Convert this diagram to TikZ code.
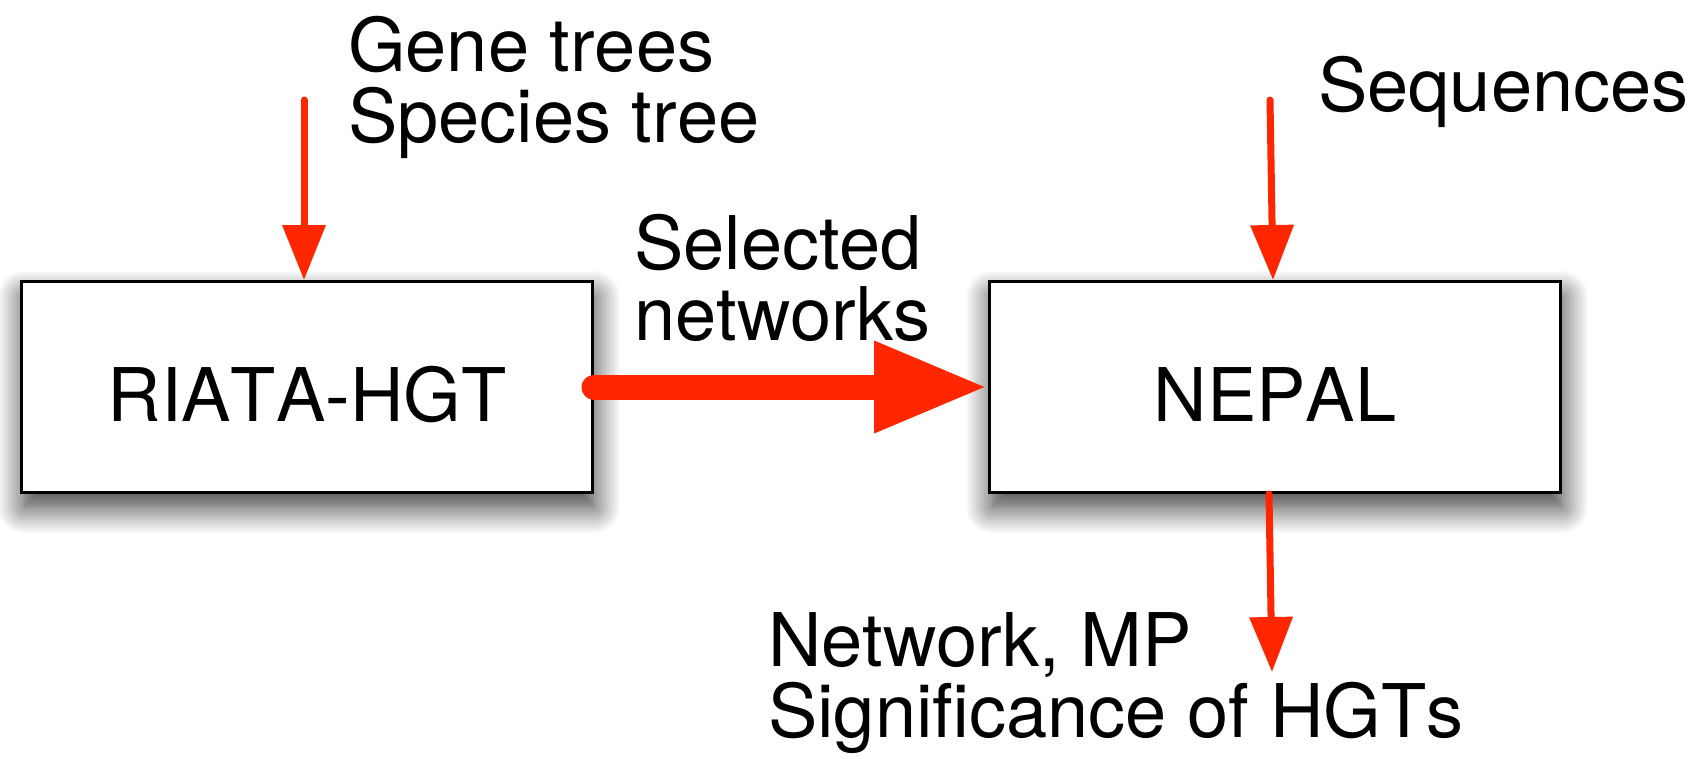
\documentclass[tikz,border=0pt]{standalone}
\usepackage{fontspec}
\setmainfont{TeX Gyre Heros}[Kerning=Off]
\usetikzlibrary{arrows.meta,shadows.blur}
\definecolor{ogred}{RGB}{255,38,0}
\tikzset{
  procbox/.style={draw=black, line width=3pt, fill=white, minimum width=571pt, minimum height=211pt,
    text height=68pt, text depth=0pt, inner sep=0pt,
    blur shadow={shadow xshift=2pt, shadow yshift=-15pt, shadow blur radius=26pt, shadow blur steps=20, shadow opacity=80}},
  txt/.style={inner sep=0pt, align=left, anchor=base west},
  feed/.style={draw=ogred, line width=7pt, line cap=round, -{Triangle[length=55pt,width=42pt]}},
  flow/.style={draw=ogred, line width=25pt, line cap=round, -{Triangle[length=114pt,width=85pt]}},
}
\begin{document}
\begin{tikzpicture}[x=1pt,y=-1pt, every node/.style={font=\fontsize{74pt}{71pt}\selectfont}]
\useasboundingbox (0,0) rectangle (1698,758);
\node[procbox] (riata) at (307,387) {RIATA-HGT};
\node[procbox] (nepal) at (1275,387) {NEPAL};
\node[txt] (genes) at (348,142) {Gene trees\\Species tree};
\node[txt] (seq) at (1318,111) {Sequences};
\node[txt] (sel) at (634,340) {Selected\\networks};
\node[txt] (out) at (768,737) {Network, MP\\Significance of HGTs};
\coordinate (a1) at (304,100);
\draw[feed] (a1) -- (a1 |- riata.north);
\coordinate (a2) at (1270,100);
\coordinate (a2e) at (1273,0);
\draw[feed] (a2) -- (a2e |- nepal.north);
\coordinate (a3) at (1269,0);
\coordinate (a3e) at (1272,672);
\draw[feed] (a3 |- nepal.south) -- (a3e);
\draw[flow] (riata.east) -- (nepal.west);
\end{tikzpicture}
\end{document}
